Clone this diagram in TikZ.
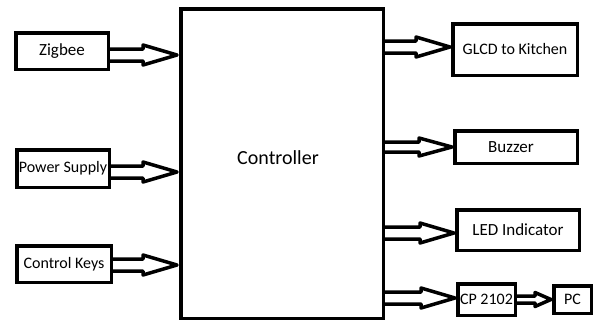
\documentclass[tikz,border=0pt]{standalone}
\usepackage{fontspec}
\setmainfont{Carlito}
\usetikzlibrary{calc}
\tikzset{
  blk/.style={draw=black, line width=3.5pt, fill=white, inner sep=0pt, align=center,
    font=\fontsize{16}{19}\selectfont},
  barrow/.style={draw=black, line width=3.5pt, line join=round},
}
\newcommand\blockarrow[6]{%
  \draw[barrow] let \p1=#1, \p2=#2, \p3=#3 in
    (\x1,\y3+#4) -- (\x2-#6,\y3+#4) -- (\x2-#6,\y3+#5) -- (\x2,\y3)
    -- (\x2-#6,\y3-#5) -- (\x2-#6,\y3-#4) -- (\x1,\y3-#4);}
\begin{document}
\begin{tikzpicture}[x=1pt,y=-1pt]
\useasboundingbox (0,0) rectangle (597,324);
\node[blk, minimum width=202.5pt, minimum height=309.5pt] (ctrl) at (282,163.5) {};
\node[font=\fontsize{20}{24}\selectfont] (ctrltext) at (278,158) {Controller};
\node[blk, minimum width=92.5pt, minimum height=36.5pt, font=\fontsize{17}{20}\selectfont] (zig) at (62,51) {Zigbee};
\node[blk, minimum width=92.5pt, minimum height=37.5pt] (pow) at (63,168.5) {Power Supply};
\node[blk, minimum width=94.5pt, minimum height=36.5pt] (keys) at (64,264) {Control Keys};
\node[blk, minimum width=124.5pt, minimum height=51.5pt] (glcd) at (515,49.5) {GLCD to Kitchen};
\node[blk, minimum width=122.5pt, minimum height=32.5pt, font=\fontsize{17}{20}\selectfont] (buz) at (516,147) {\hspace*{-10pt}Buzzer};
\node[blk, minimum width=122.5pt, minimum height=40.5pt, font=\fontsize{17}{20}\selectfont] (led) at (518,230) {LED Indicator};
\node[blk, minimum width=57.5pt, minimum height=31.5pt] (cp) at (486.5,299.5) {CP 2102};
\node[blk, minimum width=37.5pt, minimum height=27.5pt] (pc) at (572.5,299.5) {PC};
% input arrows
\blockarrow{(zig.east)}{([xshift=-2pt]ctrl.west)}{([yshift=-4pt]zig.east)}{6pt}{10pt}{34pt}
\blockarrow{(pow.east)}{([xshift=-2pt]ctrl.west)}{([yshift=-3.5pt]pow.east)}{6pt}{10pt}{34pt}
\blockarrow{(keys.east)}{([xshift=-2pt]ctrl.west)}{([yshift=-1pt]keys.east)}{6pt}{10pt}{34pt}
% output arrows
\blockarrow{(ctrl.east)}{([xshift=-1pt]glcd.west)}{([yshift=2.5pt]glcd.west)}{6pt}{10pt}{34pt}
\blockarrow{(ctrl.east)}{([xshift=-1pt]buz.west)}{(buz.west)}{5pt}{9pt}{33pt}
\blockarrow{(ctrl.east)}{([xshift=-1pt]led.west)}{([yshift=-3pt]led.west)}{6pt}{10pt}{34pt}
\blockarrow{(ctrl.east)}{([xshift=-1pt]cp.west)}{([yshift=1.5pt]cp.west)}{6pt}{10pt}{34pt}
\blockarrow{(cp.east)}{([xshift=-1pt]pc.west)}{(pc.west)}{3.5pt}{7pt}{16pt}
\end{tikzpicture}
\end{document}
